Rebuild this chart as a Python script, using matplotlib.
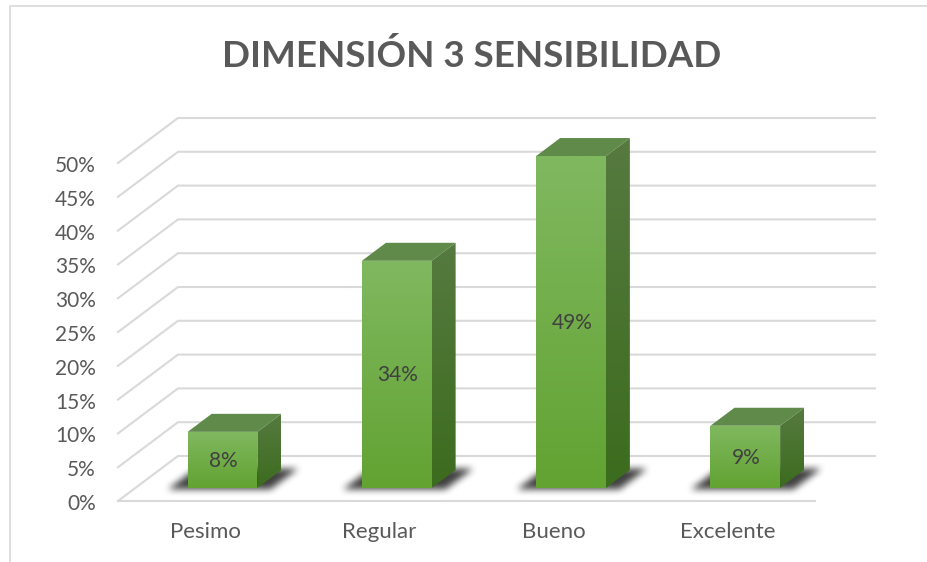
"""Dimension 3 chart: fake 3D columns drawn on a flat axes in pixel space."""

import matplotlib

matplotlib.use("Agg")
import matplotlib.pyplot as plt  # noqa: E402
import numpy as np  # noqa: E402
from matplotlib.patches import Polygon  # noqa: E402

categories = ["Pesimo", "Regular", "Bueno", "Excelente"]
values = [8.3, 33.6, 49.1, 9.2]
value_ticks = [0, 5, 10, 15, 20, 25, 30, 35, 40, 45, 50]
title = "DIMENSIÓN 3 SENSIBILIDAD"

# projection of the chart box onto the picture, in pixels
X0, Y0 = 118.0, 501.0
FLOOR_W = 697.0
DEPTH_X, DEPTH_Y = 60.0, -45.0
PX_PER_PCT = 6.76
BAR_W = 0.4
DEPTH_NEAR, DEPTH_FAR = 0.29, 0.69

TEXT = "#595959"
GRID = "#d9d9d9"


def proj(x, v, d):
    """x in category units, v in percent, d in 0..1 depth -> pixel x, y."""
    return (
        X0 + x * FLOOR_W / len(categories) + d * DEPTH_X,
        Y0 - v * PX_PER_PCT + d * DEPTH_Y,
    )


def gradient_face(ax, pts, top, bottom, zorder):
    pts = np.array(pts)
    x0, x1 = pts[:, 0].min(), pts[:, 0].max()
    y0, y1 = pts[:, 1].min(), pts[:, 1].max()
    c = np.linspace(0, 1, 64)[:, None, None]
    img = (1 - c) * np.array(top)[None, None, :] + c * np.array(bottom)[None, None, :]
    im = ax.imshow(
        img, extent=(x0, x1, y1, y0), aspect="auto", zorder=zorder, interpolation="bilinear"
    )
    poly = Polygon(pts, closed=True, transform=ax.transData, fc="none", ec="none")
    ax.add_patch(poly)
    im.set_clip_path(poly)


def rgb(h):
    return matplotlib.colors.to_rgb(h)


def box_blur(a, n):
    k = np.ones(2 * n + 1) / (2 * n + 1)
    for axis in (0, 1):
        a = np.apply_along_axis(lambda r: np.convolve(r, k, mode="same"), axis, a)
    return a


def draw_shadow(ax, i):
    """Soft shadow cast on the floor behind and beside one column."""
    left, right = i + 0.5 - BAR_W / 2 - 0.1, i + 0.5 + BAR_W / 2 + 0.09
    near, far = DEPTH_NEAR - 0.03, DEPTH_FAR + 0.04
    xa, ya = proj(left, 0, near)
    xb, yb = proj(right, 0, far)
    pad = 30
    xs = np.arange(xa - pad, xb + pad)
    ys = np.arange(yb - pad, ya + pad)
    gx, gy = np.meshgrid(xs, ys)
    depth = (Y0 - gy) / -DEPTH_Y
    cat = (gx - X0 - depth * DEPTH_X) / (FLOOR_W / len(categories))
    mask = (cat > left) & (cat < right) & (depth > near) & (depth < far)
    alpha = box_blur(box_blur(mask.astype(float), 4), 3) * 0.95
    img = np.zeros(alpha.shape + (4,))
    img[..., :3] = 0.22
    img[..., 3] = alpha
    ax.imshow(
        img,
        extent=(xs[0], xs[-1], ys[-1], ys[0]),
        aspect="auto",
        zorder=2,
        interpolation="bilinear",
    )


def draw_column(ax, i, v):
    left, right = i + 0.5 - BAR_W / 2, i + 0.5 + BAR_W / 2
    fl_b, fr_b = proj(left, 0, DEPTH_NEAR), proj(right, 0, DEPTH_NEAR)
    fl_t, fr_t = proj(left, v, DEPTH_NEAR), proj(right, v, DEPTH_NEAR)
    br_b = proj(right, 0, DEPTH_FAR)
    bl_t, br_t = proj(left, v, DEPTH_FAR), proj(right, v, DEPTH_FAR)

    gradient_face(ax, [fl_t, fr_t, fr_b, fl_b], rgb("#80b860"), rgb("#62a332"), 3)
    gradient_face(ax, [fr_t, br_t, br_b, fr_b], rgb("#567a40"), rgb("#3c6c1e"), 3)
    ax.add_patch(Polygon([fl_t, bl_t, br_t, fr_t], closed=True, fc="#5f8a4a", ec="none", zorder=3))

    cx = (fl_b[0] + fr_b[0]) / 2
    cy = (fl_b[1] + fl_t[1]) / 2
    ax.text(
        cx + 1, cy + 1, f"{v:.0f}%", ha="center", va="center", fontsize=15,
        color="#404040", zorder=4,
    )


def main():
    plt.rcParams["font.family"] = ["Lato", "DejaVu Sans"]
    fig = plt.figure(figsize=(9.27, 5.62), dpi=100)
    ax = fig.add_axes((0, 0, 1, 1))
    ax.set_xlim(0, 927)
    ax.set_ylim(562, 0)
    ax.axis("off")

    # chart frame, cut off at the bottom and right of the picture
    ax.plot([10.5, 10.5, 927], [562, 5.5, 5.5], color=GRID, lw=1.2, zorder=1)

    n = len(categories)
    for t in value_ticks:
        xa, ya = proj(0, t, 0)
        xb, yb = proj(0, t, 1)
        xc, yc = proj(n, t, 1)
        ax.plot([xa, xb, xc], [ya, yb, yc], color=GRID, lw=1.5, zorder=1, solid_joinstyle="miter")
        ax.text(xa - 22, ya + 3, f"{t}%", ha="right", va="center", fontsize=15, color=TEXT)
    xa, ya = proj(0, 0, 0)
    xb, yb = proj(n, 0, 0)
    ax.plot([xa, xb], [ya, yb], color=GRID, lw=1.5, zorder=1)

    for i in range(n):
        draw_shadow(ax, i)
    for i, v in enumerate(values):
        draw_column(ax, i, v)

    for i, name in enumerate(categories):
        x, y = proj(i + 0.5, 0, 0)
        ax.text(x, y + 31, name, ha="center", va="center", fontsize=16, color=TEXT)

    ax.text(472, 56, title, ha="center", va="center", fontsize=26.5, fontweight="bold", color=TEXT)

    ax.set_xlim(0, 927)
    ax.set_ylim(562, 0)
    fig.savefig("out.png", dpi=100)
    plt.close(fig)


if __name__ == "__main__":
    main()
